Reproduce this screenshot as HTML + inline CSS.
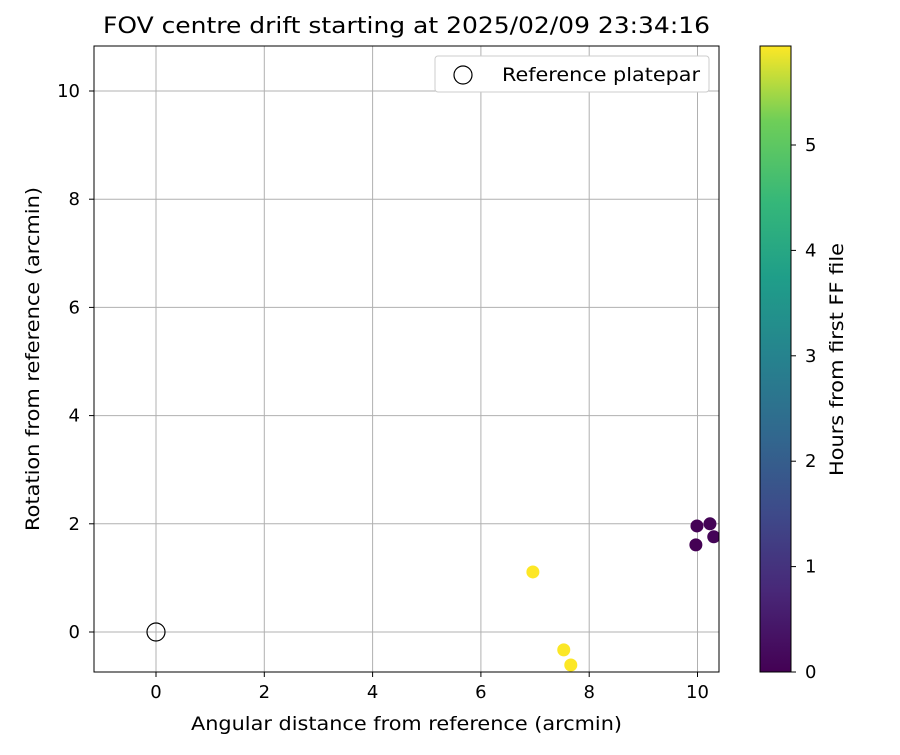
<!DOCTYPE html>
<html><head><meta charset="utf-8"><style>
body{margin:0;background:#fff;font-family:"Liberation Sans","DejaVu Sans",sans-serif}
svg text{font-family:"DejaVu Sans","Liberation Sans",sans-serif;fill:#000}
</style></head><body>
<svg id="c" width="900" height="750" xmlns="http://www.w3.org/2000/svg">
<defs><linearGradient id="vir" x1="0" y1="1" x2="0" y2="0">
<stop offset="0" stop-color="#440154"/><stop offset="0.13" stop-color="#482878"/><stop offset="0.25" stop-color="#3e4989"/><stop offset="0.38" stop-color="#31688e"/><stop offset="0.5" stop-color="#26828e"/><stop offset="0.63" stop-color="#1f9e89"/><stop offset="0.75" stop-color="#35b779"/><stop offset="0.88" stop-color="#6ece58"/><stop offset="1" stop-color="#fde725"/></linearGradient>
<clipPath id="pc"><rect x="94" y="46" width="625" height="626"/></clipPath></defs>
<g id="grid"></g><g id="pts" clip-path="url(#pc)"></g>
<rect x="94" y="46" width="625" height="626" fill="none" stroke="#000" stroke-width="1"/>
<g id="ax"></g>
<text x="103" y="33" font-size="22" textLength="607" lengthAdjust="spacingAndGlyphs">FOV centre drift starting at 2025/02/09 23:34:16</text>
<text x="191" y="730" font-size="19" textLength="431" lengthAdjust="spacingAndGlyphs">Angular distance from reference (arcmin)</text>
<text transform="translate(39,531) rotate(-90)" font-size="19" textLength="344" lengthAdjust="spacingAndGlyphs">Rotation from reference (arcmin)</text>
<g>
<rect x="435" y="56" width="274" height="36" rx="3" fill="#fff" stroke="#ccc"/>
<circle cx="463" cy="75" r="9" fill="none" stroke="#000" stroke-width="1.2"/>
<text x="502" y="81" font-size="19" textLength="198" lengthAdjust="spacingAndGlyphs">Reference platepar</text></g>
<rect x="760" y="46" width="31" height="626" fill="url(#vir)" stroke="#000"/>
<g id="cb"></g>
<text transform="translate(843,476) rotate(-90)" font-size="19" textLength="233" lengthAdjust="spacingAndGlyphs">Hours from first FF file</text>
</svg>
<script>
const xs=[9.99,10.23,10.30,9.97,6.96,7.53,7.66];
const ys=[1.96,2.00,1.76,1.61,1.11,-0.33,-0.61];
const hours=[0.02,0.05,0.08,0.0,5.94,5.92,5.93];
const xTicks=[0,2,4,6,8,10];
const yTicks=[0,2,4,6,8,10];
const cTicks=[0,1,2,3,4,5];
const NS="http://www.w3.org/2000/svg";
const X=v=>156+v*54.15, Y=v=>632-v*54.1, C=v=>672-v*105.4;
function mk(p,t,a){const e=document.createElementNS(NS,t);for(const k in a)e.setAttribute(k,a[k]);document.getElementById(p).appendChild(e);return e;}
const stops=[[0,[68,1,84]],[0.25,[59,82,139]],[0.5,[33,145,140]],[0.75,[94,201,98]],[1,[253,231,37]]];
function vir(t){t=Math.max(0,Math.min(1,t));for(let i=1;i<stops.length;i++){if(t<=stops[i][0]){const a=stops[i-1],b=stops[i],f=(t-a[0])/(b[0]-a[0]);return 'rgb('+a[1].map((c,j)=>Math.round(c+(b[1][j]-c)*f)).join(',')+')';}}}
xTicks.forEach(v=>{const l=mk('grid','line',{x1:X(v),x2:X(v),y1:46,y2:672,stroke:'#b0b0b0','stroke-width':1});

mk('ax','line',{x1:X(v),x2:X(v),y1:672,y2:677,stroke:'#000'});
const t=mk('ax','text',{x:X(v),y:698,'font-size':18,'text-anchor':'middle'});t.textContent=v;
});
yTicks.forEach(v=>{const l=mk('grid','line',{x1:94,x2:719,y1:Y(v),y2:Y(v),stroke:'#b0b0b0','stroke-width':1});

mk('ax','line',{x1:89,x2:94,y1:Y(v),y2:Y(v),stroke:'#000'});
const t=mk('ax','text',{x:80,y:Y(v)+6,'font-size':18,'text-anchor':'end'});t.textContent=v;
});
cTicks.forEach(v=>{mk('cb','line',{x1:791,x2:796,y1:C(v),y2:C(v),stroke:'#000'});
const t=mk('cb','text',{x:805,y:C(v)+6,'font-size':18});t.textContent=v;
});
xs.forEach((x,i)=>{const c=mk('pts','circle',{cx:X(x),cy:Y(ys[i]),r:6.5,fill:vir(hours[i]/5.94)});
});
const r=mk('pts','circle',{cx:X(0),cy:Y(0),r:9,fill:'none',stroke:'#000','stroke-width':1.2});

</script>
</body></html>
